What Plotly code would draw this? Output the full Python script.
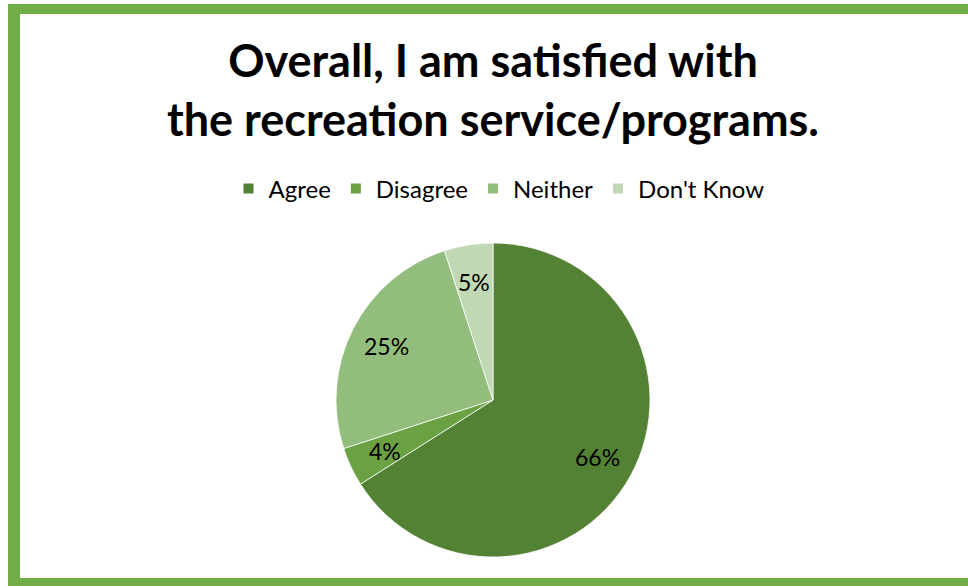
import math
import plotly.graph_objects as go

# Survey responses (percent of respondents)
categories = ["Agree", "Disagree", "Neither", "Don't Know"]
shares = [66, 4, 25, 5]
slice_colors = ["#548235", "#6aa142", "#93bd7c", "#c0d8b3"]

title_lines = ["Overall, I am satisfied with", "the recreation service/programs."]

W, H = 968, 586
FRAME = "#70ad47"
FONT = "Lato, Carlito, Calibri, sans-serif"

# Pie placement (pixels)
CX, CY, R = 493, 400, 157
LABEL_RADIUS = 0.76  # fraction of radius where percentage labels sit

fig = go.Figure(
    go.Pie(
        labels=categories,
        values=shares,
        sort=False,
        direction="clockwise",
        rotation=0,
        marker=dict(colors=slice_colors, line=dict(color="white", width=0.75)),
        textinfo="none",
        hoverinfo="label+percent",
        domain=dict(x=[(CX - R) / W, (CX + R) / W],
                    y=[1 - (CY + R) / H, 1 - (CY - R) / H]),
        showlegend=True,
    )
)

# Percentage labels placed at each slice's mid-angle
total = sum(shares)
cum = 0
for v in shares:
    mid = (cum + v / 2) / total * 2 * math.pi
    cum += v
    px = CX + LABEL_RADIUS * R * math.sin(mid)
    py = CY - LABEL_RADIUS * R * math.cos(mid)
    fig.add_annotation(
        x=px / W, y=1 - py / H, xref="paper", yref="paper",
        text=f"{round(100 * v / total)}%", showarrow=False,
        xanchor="center", yanchor="middle",
        font=dict(family=FONT, size=23, color="black"),
    )

# Frame: left, top and bottom bars
frame_shapes = [
    dict(x0=8, x1=20, y0=4, y1=586),
    dict(x0=8, x1=968, y0=4, y1=14),
    dict(x0=8, x1=968, y0=578, y1=586),
]
for s in frame_shapes:
    fig.add_shape(
        type="rect", xref="paper", yref="paper",
        x0=s["x0"] / W, x1=s["x1"] / W,
        y0=1 - s["y1"] / H, y1=1 - s["y0"] / H,
        fillcolor=FRAME, line=dict(width=0), layer="above",
    )

fig.update_layout(
    width=W,
    height=H,
    margin=dict(l=0, r=0, t=0, b=0),
    paper_bgcolor="white",
    plot_bgcolor="white",
    title=dict(
        text="<br>".join(title_lines),
        x=493 / W, xanchor="center",
        y=1 - 77 / H, yanchor="middle",
        font=dict(family=FONT, size=45, color="black", weight="bold"),
    ),
    legend=dict(
        orientation="h",
        x=499 / W, xanchor="center",
        y=1 - 189 / H, yanchor="middle",
        font=dict(family=FONT, size=24, color="black"),
        itemsizing="constant",
        itemwidth=30,
        traceorder="normal",
    ),
)

fig.write_html("out.html")
